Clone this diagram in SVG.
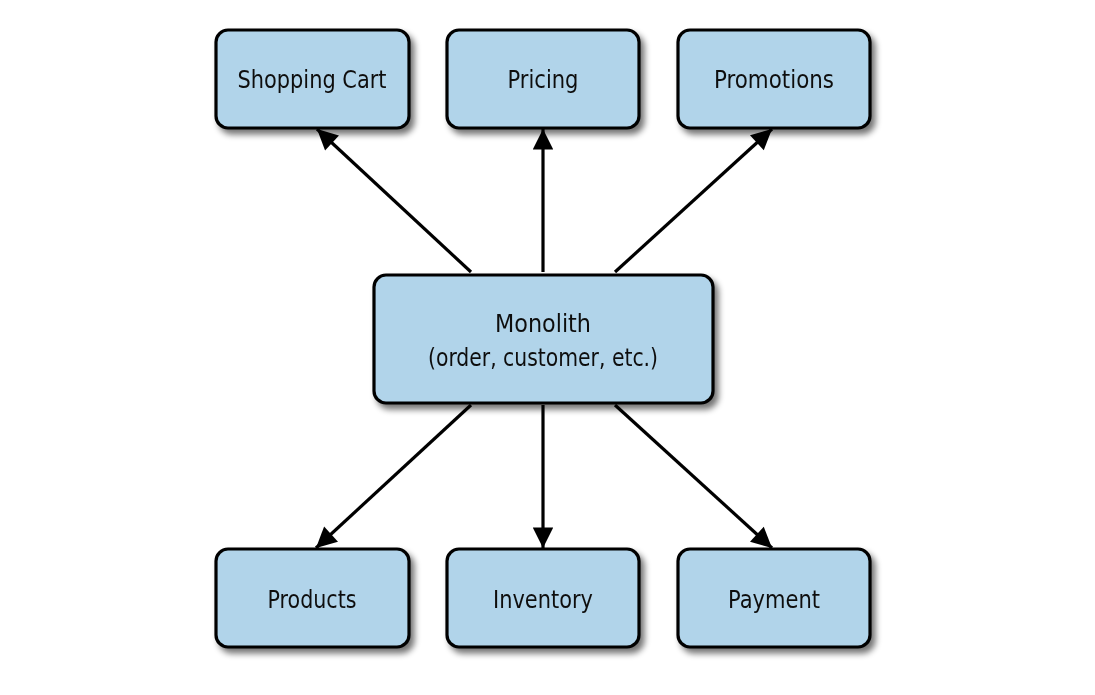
<svg xmlns="http://www.w3.org/2000/svg" width="1095" height="695" viewBox="0 0 1095 695">
<defs>
<filter id="sh" x="-10%" y="-10%" width="130%" height="140%">
<feGaussianBlur in="SourceAlpha" stdDeviation="3"/>
<feOffset dx="4" dy="5" result="b"/>
<feComponentTransfer><feFuncA type="linear" slope="0.55"/></feComponentTransfer>
<feMerge><feMergeNode/><feMergeNode in="SourceGraphic"/></feMerge>
</filter>
<marker id="ah" viewBox="0 0 10 10" refX="10" refY="5" markerWidth="7" markerHeight="6.4" markerUnits="strokeWidth" orient="auto">
<path d="M0,0 L10,5 L0,10 z" fill="#000"/>
</marker>
<style>
.box{fill:#b1d4ea;stroke:#000;stroke-width:3.2}
.t{font-family:"DejaVu Sans Condensed","DejaVu Sans",sans-serif;font-stretch:condensed;font-size:25px;fill:#111;text-anchor:middle}
.c{stroke:#000;stroke-width:3.2;fill:none;marker-end:url(#ah)}
</style>
</defs>
<rect width="1095" height="695" fill="#fff"/>
<g id="connectors">
<line class="c" x1="471" y1="272" x2="317" y2="129"/>
<line class="c" x1="543" y1="272" x2="543" y2="129"/>
<line class="c" x1="615" y1="272" x2="772" y2="129"/>
<line class="c" x1="471" y1="405" x2="316" y2="548"/>
<line class="c" x1="543" y1="405" x2="543" y2="548"/>
<line class="c" x1="615" y1="405" x2="772" y2="548"/>
</g>
<g id="shopping-cart" filter="url(#sh)"><rect class="box" x="216" y="30" width="193" height="98" rx="12"/><text class="t" x="312" y="88" textLength="149" lengthAdjust="spacingAndGlyphs">Shopping Cart</text></g>
<g id="pricing" filter="url(#sh)"><rect class="box" x="447" y="30" width="192" height="98" rx="12"/><text class="t" x="543" y="88" textLength="71" lengthAdjust="spacingAndGlyphs">Pricing</text></g>
<g id="promotions" filter="url(#sh)"><rect class="box" x="678" y="30" width="192" height="98" rx="12"/><text class="t" x="774" y="88" textLength="120" lengthAdjust="spacingAndGlyphs">Promotions</text></g>
<g id="monolith" filter="url(#sh)"><rect class="box" x="374" y="275" width="339" height="128" rx="12"/><text class="t" x="543" y="332" textLength="96" lengthAdjust="spacingAndGlyphs">Monolith</text><text class="t" x="543" y="366" textLength="230" lengthAdjust="spacingAndGlyphs">(order, customer, etc.)</text></g>
<g id="products" filter="url(#sh)"><rect class="box" x="216" y="549" width="193" height="98" rx="12"/><text class="t" x="312" y="608" textLength="89" lengthAdjust="spacingAndGlyphs">Products</text></g>
<g id="inventory" filter="url(#sh)"><rect class="box" x="447" y="549" width="192" height="98" rx="12"/><text class="t" x="543" y="608" textLength="100" lengthAdjust="spacingAndGlyphs">Inventory</text></g>
<g id="payment" filter="url(#sh)"><rect class="box" x="678" y="549" width="192" height="98" rx="12"/><text class="t" x="774" y="608" textLength="92" lengthAdjust="spacingAndGlyphs">Payment</text></g>
</svg>
